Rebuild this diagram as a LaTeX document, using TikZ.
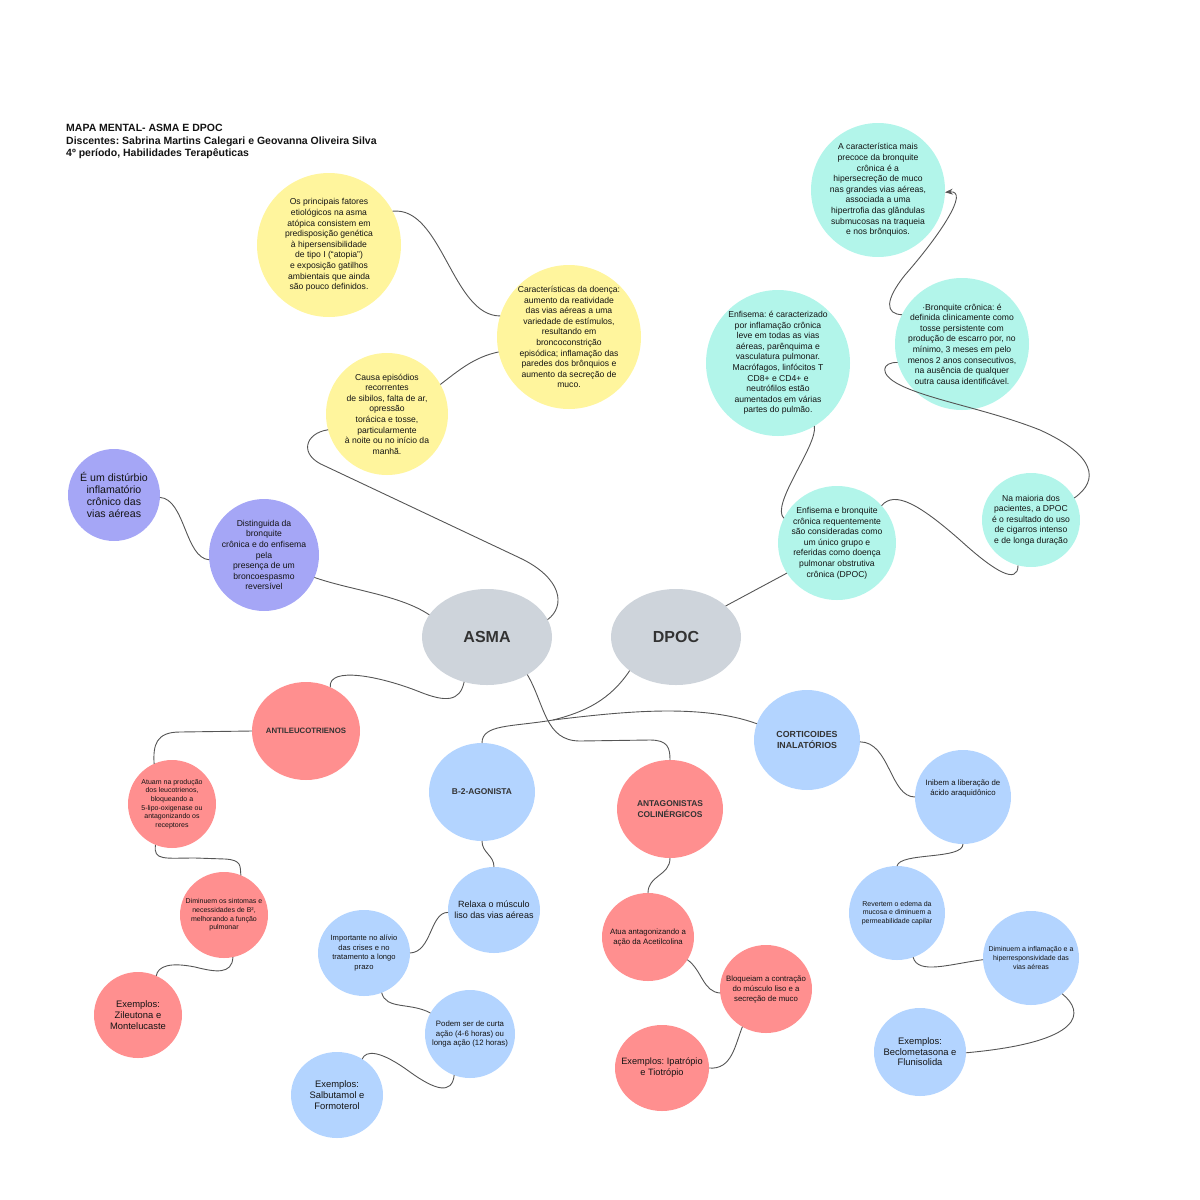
\documentclass[tikz,border=0pt]{standalone}
\usepackage{fontspec}
\setmainfont{Liberation Sans}
\usetikzlibrary{shapes.geometric, arrows.meta, positioning}

\definecolor{amarelo}{HTML}{FFF59D}
\definecolor{lilas}{HTML}{A5A6F6}
\definecolor{cinza}{HTML}{CED4DB}
\definecolor{verdeagua}{HTML}{B2F5EA}
\definecolor{salmao}{HTML}{FF8F8F}
\definecolor{azulclaro}{HTML}{B3D4FF}
\definecolor{tinta}{HTML}{141414}
\definecolor{tintaforte}{HTML}{333333}
\definecolor{linha}{HTML}{555555}

\newcommand{\tam}[2]{\fontsize{#1}{#2}\selectfont}
\frenchspacing

\begin{document}
\begin{tikzpicture}[x=1pt, y=-1pt,
    bubble/.style={ellipse, inner sep=-25pt, outer sep=0pt, align=center, text=tinta},
    sz/.style 2 args={minimum width=#1pt, minimum height=#2pt},
    amar/.style={bubble, fill=amarelo, font=\tam{8.6}{10.6}},
    lil/.style={bubble, fill=lilas, font=\tam{8.6}{10.6}},
    verde/.style={bubble, fill=verdeagua, font=\tam{8.6}{10.6}},
    verm/.style={bubble, fill=salmao},
    azul/.style={bubble, fill=azulclaro},
    tema/.style={bubble, fill=cinza, text=tintaforte, font=\bfseries\tam{16}{18}},
    titulo/.style={font=\bfseries\tam{10.5}{12.5}, align=left, text=tinta, inner sep=0pt},
    cab/.style={text=tintaforte, font=\bfseries\tam{8.4}{10.5}},
    conn/.style={draw=linha, line width=0.9pt}]
  \useasboundingbox (0,0) rectangle (1200,1200);

  % titulo
  \node[titulo, anchor=north west] (titulo) at (66,124) {MAPA MENTAL- ASMA E DPOC\\Discentes: Sabrina Martins Calegari e Geovanna Oliveira Silva\\4º período, Habilidades Terapêuticas};

  % temas centrais
  \node[tema, sz={130}{96}] (asma) at (487,637) {ASMA};
  \node[tema, sz={130}{96}] (dpoc) at (676,637) {DPOC};

  % asma: caracteristicas
  \node[amar, sz={144}{144}] (y1) at (329,245) {Os principais fatores\\etiológicos na asma\\atópica consistem em\\predisposição genética\\à hipersensibilidade\\de tipo I (“atopia”)\\e exposição gatilhos\\ambientais que ainda\\são pouco definidos.};
  \node[amar, sz={144}{144}] (y2) at (569,337) {Características da doença:\\aumento da reatividade\\das vias aéreas a uma\\variedade de estímulos,\\resultando em\\broncoconstrição\\episódica; inflamação das\\paredes dos brônquios e\\aumento da secreção de\\muco.};
  \node[amar, sz={122}{122}] (y3) at (387,414) {Causa episódios\\recorrentes\\de sibilos, falta de ar,\\opressão\\torácica e tosse,\\particularmente\\à noite ou no início da\\manhã.};
  \node[lil, sz={92}{92}, font=\tam{10.6}{12}] (p1) at (114,495) {É um distúrbio\\inflamatório\\crônico das\\vias aéreas};
  \node[lil, sz={110}{112}] (p2) at (264,555) {Distinguida da\\bronquite\\crônica e do enfisema\\pela\\presença de um\\broncoespasmo\\reversível};

  % dpoc: caracteristicas
  \node[verde, sz={134}{134}] (t1) at (878,190) {A característica mais\\precoce da bronquite\\crônica é a\\hipersecreção de muco\\nas grandes vias aéreas,\\associada a uma\\hipertrofia das glândulas\\submucosas na traqueia\\e nos brônquios.};
  \node[verde, sz={144}{146}] (t2) at (778,363) {Enfisema: é caracterizado\\por inflamação crônica\\leve em todas as vias\\aéreas, parênquima e\\vasculatura pulmonar.\\Macrófagos, linfócitos T\\CD8+ e CD4+ e\\neutrófilos estão\\aumentados em várias\\partes do pulmão.};
  \node[verde, sz={134}{132}] (t3) at (962,344) {·Bronquite crônica: é\\definida clinicamente como\\tosse persistente com\\produção de escarro por, no\\mínimo, 3 meses em pelo\\menos 2 anos consecutivos,\\na ausência de qualquer\\outra causa identificável.};
  \node[verde, sz={118}{114}] (t4) at (837,543) {Enfisema e bronquite\\crônica  requentemente\\são consideradas como\\um único grupo e\\referidas como doença\\pulmonar  obstrutiva\\crônica (DPOC)};
  \node[verde, sz={98}{94}] (t5) at (1031,520) {Na maioria dos\\pacientes, a DPOC\\é o resultado do uso\\de cigarros intenso\\e de longa duração};

  % antileucotrienos
  \node[verm, sz={108}{98}, cab, font=\bfseries\tam{7.8}{10}] (r1) at (306,731) {ANTILEUCOTRIENOS};
  \node[verm, sz={88}{88}, font=\tam{7}{8.6}] (r2) at (172,804) {Atuam na produção\\dos leucotrienos,\\bloqueando a\\5-lipo-oxigenase ou\\antagonizando os\\receptores};
  \node[verm, sz={88}{86}, font=\tam{7}{8.6}] (r3) at (224,915) {Diminuem os sintomas e\\necessidades de B²,\\melhorando a função\\pulmonar};
  \node[verm, sz={88}{86}, font=\tam{9.4}{11}] (r4) at (138,1015) {Exemplos:\\Zileutona e\\Montelucaste};

  % b-2-agonista
  \node[azul, sz={106}{98}, cab] (b1) at (482,792) {B-2-AGONISTA};
  \node[azul, sz={92}{86}, font=\tam{9}{10.6}] (b2) at (494,910) {Relaxa o músculo\\liso das vias aéreas};
  \node[azul, sz={92}{86}, font=\tam{7.6}{9.8}] (b3) at (364,953) {Importante no alívio\\das crises e no\\tratamento a longo\\prazo};
  \node[azul, sz={90}{88}, font=\tam{7.8}{9.8}] (b4) at (470,1034) {Podem ser de curta\\ação (4-6 horas) ou\\longa ação (12 horas)};
  \node[azul, sz={92}{86}, font=\tam{9.4}{11}] (b5) at (337,1095) {Exemplos:\\Salbutamol e\\Formoterol};

  % antagonistas colinergicos
  \node[verm, sz={106}{98}, cab] (r5) at (670,809) {ANTAGONISTAS\\COLINÉRGICOS};
  \node[verm, sz={92}{88}, font=\tam{7.8}{10}] (r6) at (648,937) {Atua antagonizando a\\ação da Acetilcolina};
  \node[verm, sz={92}{88}, font=\tam{7.8}{10}] (r7) at (766,989) {Bloqueiam a contração\\do músculo liso e a\\secreção de muco};
  \node[verm, sz={94}{86}, font=\tam{9.2}{11}] (r8) at (662,1068) {Exemplos: Ipatrópio\\e Tiotrópio};

  % corticoides
  \node[azul, sz={106}{100}, cab, font=\bfseries\tam{8.8}{11}] (b6) at (807,740) {CORTICOIDES\\INALATÓRIOS};
  \node[azul, sz={96}{94}, font=\tam{7.8}{10}] (b7) at (963,797) {Inibem a liberação de\\ácido araquidônico\\[9pt]};
  \node[azul, sz={96}{94}, font=\tam{7}{8.6}] (b8) at (897,913) {Revertem o edema da\\mucosa e diminuem a\\permeabilidade capilar};
  \node[azul, sz={96}{94}, font=\tam{7}{8.6}] (b9) at (1031,958) {Diminuem a inflamação e a\\hiperresponsividade das\\vias aéreas};
  \node[azul, sz={92}{88}, font=\tam{9.4}{10.6}] (b10) at (920,1052) {Exemplos:\\Beclometasona e\\Flunisolida};

  \coordinate (jn) at (553,720);

  % ligacoes asma
  \draw[conn] (y1.28) .. controls (442,206) and (452,316) .. (y2.163);
  \draw[conn] (y3.29) .. controls (458,371) and (474,357) .. (y2.192);
  \draw[conn] (y3.195) .. controls (305,433) and (298,455) .. (325,466) -- (520,558) .. controls (562,578) and (566,606) .. (asma.16);
  \draw[conn] (p1.357) .. controls (185,499) and (185,558) .. (p2.185);
  \draw[conn] (p2.336) .. controls (350,590) and (400,595) .. (asma.159);

  % ligacoes dpoc
  \draw[conn] (t2.300) .. controls (818,445) and (770,505) .. (t4.155);
  \draw[conn] (t4.40) .. controls (895,490) and (920,505) .. (960,540) .. controls (995,572) and (1018,585) .. (t5.254);
  \draw[conn] (t5.27) .. controls (1100,480) and (1095,455) .. (1040,430) .. controls (990,410) and (930,400) .. (900,385) .. controls (878,374) and (882,362) .. (t3.196);
  \draw[conn, -{Stealth[length=8pt, width=6pt]}] (t3.154) .. controls (885,314) and (885,300) .. (905,275) .. controls (940,235) and (970,190) .. (t1.358);
  \draw[conn] (dpoc.32) -- (t4.211);

  % ligacoes medicamentos
  \draw[conn] (asma.243) .. controls (460,702) and (445,702) .. (420,692) .. controls (380,676) and (328,666) .. (r1.61);
  \draw[conn] (asma.317) .. controls (545,705) and (545,741) .. (580,741) -- (650,740) .. controls (668,740) and (670,748) .. (r5.90);
  \draw[conn] (dpoc.216) .. controls (610,700) and (585,712) .. (jn) .. controls (512,727) and (482,724) .. (b1.90);
  \draw[conn] (jn) .. controls (620,712) and (700,703) .. (b6.162);

  \draw[conn] (r1.180) -- (180,732) .. controls (156,732) and (153,745) .. (r2.114);
  \draw[conn] (r2.248) .. controls (153,861) and (165,858) .. (195,858) -- (225,859) .. controls (242,860) and (240,866) .. (r3.67);
  \draw[conn] (r3.282) .. controls (232,975) and (215,972) .. (195,967) .. controls (170,962) and (158,966) .. (r4.65);

  \draw[conn] (b1.270) .. controls +(0,12) and +(0,-12) .. (b2.90);
  \draw[conn] (b2.183) .. controls (430,912) and (432,952) .. (b3.0);
  \draw[conn] (b3.294) .. controls (386,1010) and (410,1002) .. (b4.152);
  \draw[conn] (b4.249) .. controls (452,1095) and (435,1090) .. (410,1072) .. controls (380,1050) and (366,1050) .. (b5.55);

  \draw[conn] (r5.270) .. controls +(0,18) and +(0,-18) .. (r6.90);
  \draw[conn] (r6.330) .. controls (702,970) and (703,992) .. (r7.185);
  \draw[conn] (r7.238) .. controls (735,1045) and (732,1070) .. (r8.0);

  \draw[conn] (b6.358) .. controls (890,742) and (890,797) .. (b7.180);
  \draw[conn] (b7.270) .. controls (963,860) and (900,852) .. (b8.90);
  \draw[conn] (b8.290) .. controls (918,975) and (950,964) .. (b9.182);
  \draw[conn] (b9.311) .. controls (1085,1012) and (1085,1042) .. (b10.359);
\end{tikzpicture}
\end{document}
